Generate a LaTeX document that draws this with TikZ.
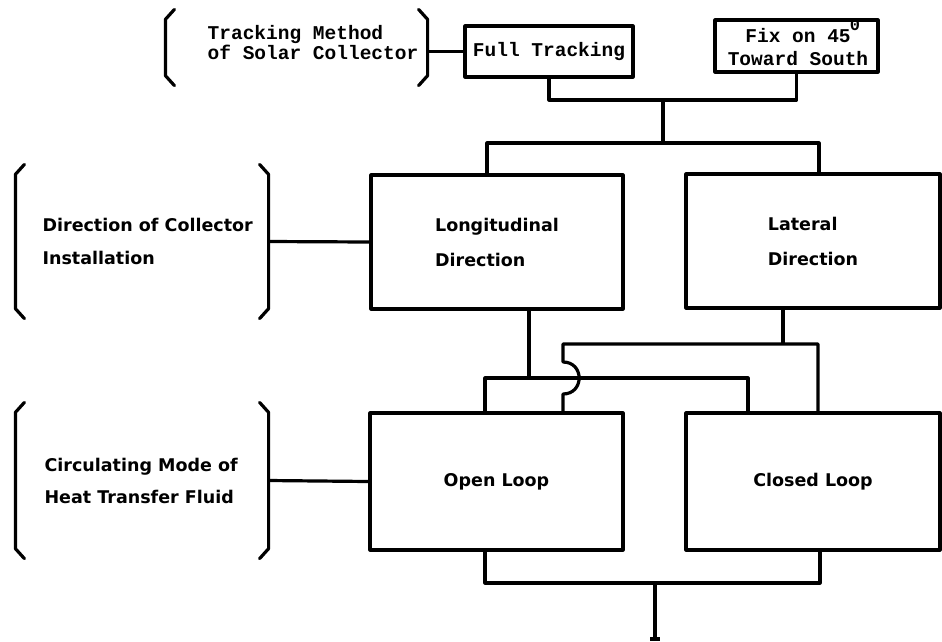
\documentclass[tikz,border=0pt]{standalone}
\usepackage{fontspec}
\usetikzlibrary{calc}
\newfontfamily\twfont{Liberation Mono}
\newfontfamily\dvfont{DejaVu Sans}
\newcommand\mylbrk[1]{\draw[brk] ($(#1.north west)+(9,-2)$) -- ($(#1.north west)+(0,8)$) -- ($(#1.south west)+(0,-8)$) -- ($(#1.south west)+(9,2)$);}
\newcommand\myrbrk[1]{\draw[brk] ($(#1.north east)+(-9,-2)$) -- ($(#1.north east)+(0,8)$) -- ($(#1.south east)+(0,-8)$) -- ($(#1.south east)+(-9,2)$);}
\begin{document}
\begin{tikzpicture}[x=1pt,y=-1pt,line width=3.2pt,line join=round,
  box/.style={draw,rectangle,inner sep=0pt,line width=3.2pt},
  brk/.style={line width=3.2pt,line cap=round},
  brkarea/.style={rectangle,inner sep=0pt},
  tw/.style={font=\twfont\bfseries\fontsize{19.5}{20}\selectfont,align=left,inner sep=0pt},
  sans/.style={font=\dvfont\bfseries\fontsize{17.5}{35}\selectfont,align=left,inner sep=0pt}]
\useasboundingbox (0,0) rectangle (942,641);

% top row
\node[brkarea,minimum width=259pt,minimum height=69pt] (trkb) at (296.5,47.5) {};
\node[tw] (trkt) at (313,43) {Tracking Method\\of Solar Collector};
\node[box,tw,minimum width=168pt,minimum height=51pt] (ft) at (549,51.5) {Full Tracking};
\node[box,minimum width=163pt,minimum height=52pt] (fix) at (796.5,46) {};
\node[tw,align=center,font=\twfont\bfseries\fontsize{19.5}{23}\selectfont] (fixt) at (798,47) {Fix on 45\\Toward South};
\node[font=\twfont\bfseries\fontsize{17}{17}\selectfont,inner sep=0pt] (deg) at (855,25) {0};

% middle row
\node[brkarea,minimum width=250pt,minimum height=147pt] (dirb) at (142,241.5) {};
\node[sans,font=\dvfont\bfseries\fontsize{17.5}{33}\selectfont,anchor=west] (dirt) at (41,241.5) {Direction of Collector\\Installation};
\node[box,sans,minimum width=252pt,minimum height=134pt] (lon) at (497,242) {Longitudinal\\Direction};
\node[box,sans,minimum width=254pt,minimum height=134pt] (lat) at (813,241) {Lateral\\Direction};

% bottom row
\node[brkarea,minimum width=250pt,minimum height=149pt] (cirb) at (142,480.5) {};
\node[sans,font=\dvfont\bfseries\fontsize{17.5}{32}\selectfont,anchor=west] (cirt) at (43,481) {Circulating Mode of\\Heat Transfer Fluid};
\node[box,sans,minimum width=253pt,minimum height=137pt] (opn) at (496.5,481.5) {Open Loop};
\node[box,sans,minimum width=254pt,minimum height=137pt] (cls) at (813,481.5) {Closed Loop};

% brackets
\mylbrk{trkb}\myrbrk{trkb}
\mylbrk{dirb}\myrbrk{dirb}
\mylbrk{cirb}\myrbrk{cirb}

% connectors top
\draw (ft.west) -- (ft.west -| trkb.east);
\coordinate (j1) at (663,100);
\coordinate (j2) at (663,143);
\draw (ft.south) |- (fix.south |- j1) -- (fix.south);
\draw (j1) -- (j2);
\coordinate (tA) at (487,143);
\coordinate (tB) at (819,143);
\draw (lon.north -| tA) -- (tA) -- (tB) -- (lat.north -| tB);

% side connectors
\draw (dirb.east) -- (lon.west);
\draw (cirb.east) -- (opn.west);

% longitudinal to loops
\coordinate (lj) at (529,378);
\coordinate (lA) at (485,378);
\coordinate (lB) at (748,378);
\draw (lon.south -| lj) -- (lj);
\draw (opn.north -| lA) -- (lA) -- (lB) -- (cls.north -| lB);

% lateral to loops (with hop)
\coordinate (uj) at (783,344);
\coordinate (uA) at (563,344);
\coordinate (uB) at (818,344);
\draw (lat.south -| uj) -- (uj);
\draw (opn.north -| uA) -- (563,394) .. controls (584.5,394) and (584.5,362) .. (563,362) -- (uA) -- (uB) -- (cls.north -| uB);

% bottom output
\coordinate (bA) at (485,583);
\coordinate (bB) at (820,583);
\coordinate (bM) at (655,583);
\coordinate (bend) at (655,639);
\draw (opn.south -| bA) -- (bA) -- (bB) -- (cls.south -| bB);
\draw (bM) -- (bend);
\draw ($(bend)+(-5,0)$) -- ($(bend)+(5,0)$);
\end{tikzpicture}
\end{document}
